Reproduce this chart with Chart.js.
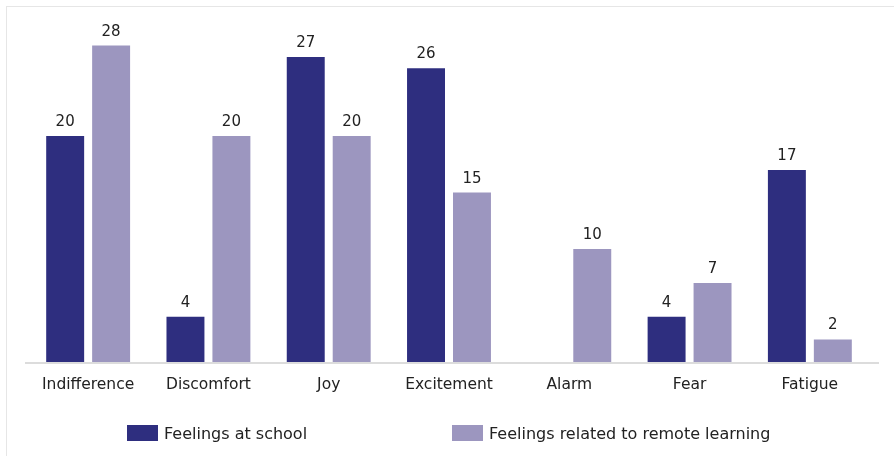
<!DOCTYPE html>
<html>
<head>
<meta charset="utf-8">
<script src="https://cdn.jsdelivr.net/npm/chart.js@4.4.1/dist/chart.umd.min.js"></script>
<style>
  html, body { margin: 0; padding: 0; background: #fff; }
  #wrap { position: relative; width: 894px; height: 456px; overflow: hidden; }
  #frame {
    position: absolute; left: 6px; top: 6px; right: -2px; bottom: -2px;
    border-top: 1px solid #e6e6e6; border-left: 1px solid #e6e6e6;
  }
  #chart { position: absolute; left: 0; top: 0; }
  #legend {
    position: absolute; top: 424px; left: 0; width: 894px;
    font-family: "DejaVu Sans", sans-serif; font-size: 16px; color: #222;
  }
  .item { position: absolute; top: 0; display: flex; align-items: center; height: 18px; }
  .swatch { width: 31px; height: 16px; margin-right: 6px; }
</style>
</head>
<body>
<div id="wrap">
  <div id="frame"></div>
  <canvas id="chart" width="894" height="456"></canvas>
  <div id="legend"></div>
</div>
<script>
const categories = ["Indifference", "Discomfort", "Joy", "Excitement", "Alarm", "Fear", "Fatigue"];
const seriesNames = ["Feelings at school", "Feelings related to remote learning"];
const schoolValues = [20, 4, 27, 26, null, 4, 17];
const remoteValues = [28, 20, 20, 15, 10, 7, 2];
const colors = ["#2e2e7f", "#9c96bf"];
const legendLeft = [127, 452];
const fontFamily = "'DejaVu Sans', sans-serif";

// value labels above each bar, plus the baseline rule
const valueLabels = {
  id: "valueLabels",
  afterDatasetsDraw(chart) {
    const ctx = chart.ctx;
    const area = chart.chartArea;
    ctx.save();
    ctx.strokeStyle = "#dcdcdc";
    ctx.lineWidth = 2;
    ctx.beginPath();
    ctx.moveTo(area.left - 3, area.bottom + 1);
    ctx.lineTo(area.right + 9, area.bottom + 1);
    ctx.stroke();

    ctx.font = "15px " + fontFamily;
    ctx.fillStyle = "#222";
    ctx.textAlign = "center";
    ctx.textBaseline = "alphabetic";
    chart.data.datasets.forEach((ds, i) => {
      chart.getDatasetMeta(i).data.forEach((bar, j) => {
        const v = ds.data[j];
        if (v === null || v === undefined) return;
        ctx.fillText(String(v), bar.x, bar.y - 10);
      });
    });
    ctx.restore();
  },
};

new Chart(document.getElementById("chart"), {
  type: "bar",
  data: {
    labels: categories,
    datasets: [
      {
        label: seriesNames[0],
        data: schoolValues,
        backgroundColor: colors[0],
        barPercentage: 0.826,
        categoryPercentage: 0.764,
      },
      {
        label: seriesNames[1],
        data: remoteValues,
        backgroundColor: colors[1],
        barPercentage: 0.826,
        categoryPercentage: 0.764,
      },
    ],
  },
  options: {
    responsive: false,
    animation: false,
    layout: { padding: { left: 28, right: 24, top: 23, bottom: 0 } },
    plugins: {
      legend: { display: false },
      tooltip: { enabled: false },
    },
    scales: {
      x: {
        grid: { display: false },
        border: { display: false },
        ticks: {
          color: "#222",
          padding: 6,
          font: { family: fontFamily, size: 15.5 },
        },
        afterFit(scale) {
          scale.height = 94;
        },
      },
      y: {
        display: false,
        min: 0,
        max: 30,
      },
    },
  },
  plugins: [valueLabels],
});

// legend row under the plot
const legend = document.getElementById("legend");
seriesNames.forEach((name, i) => {
  const item = document.createElement("div");
  item.className = "item";
  item.style.left = legendLeft[i] + "px";
  const sw = document.createElement("div");
  sw.className = "swatch";
  sw.style.background = colors[i];
  const txt = document.createElement("span");
  txt.textContent = name;
  item.appendChild(sw);
  item.appendChild(txt);
  legend.appendChild(item);
});
</script>
</body>
</html>
